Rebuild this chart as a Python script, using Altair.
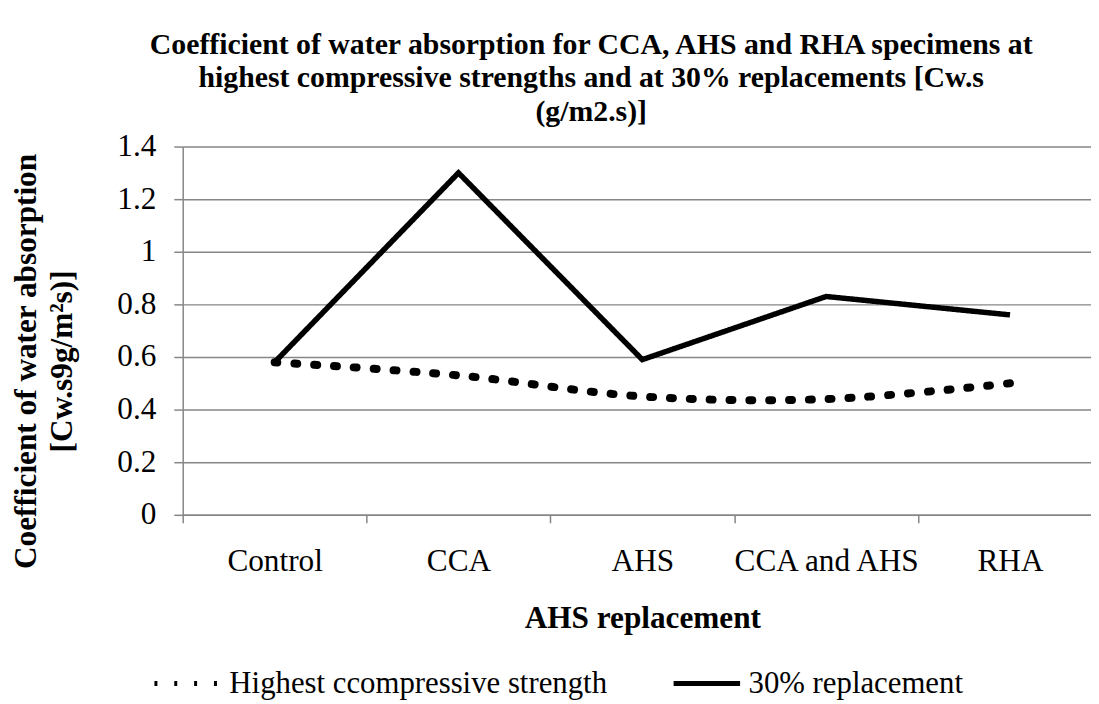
import altair as alt
import pandas as pd

categories = ["Control", "CCA", "AHS", "CCA and AHS", "RHA"]
highest_strength = [0.58, 0.53, 0.45, 0.44, 0.50]
replacement_30 = [0.58, 1.30, 0.59, 0.83, 0.76]
series_names = ["Highest ccompressive strength", "30% replacement"]
y_ticks = [0, 0.2, 0.4, 0.6, 0.8, 1.0, 1.2, 1.4]

rows = []
for c, v in zip(categories, highest_strength):
    rows.append({"cat": c, "value": v, "series": series_names[0]})
for c, v in zip(categories, replacement_30):
    rows.append({"cat": c, "value": v, "series": series_names[1]})
df = pd.DataFrame(rows)

SERIF = "Liberation Serif"
GRID = "#868686"

x_enc = alt.X(
    "cat:N",
    sort=categories,
    bandPosition=0.5,
    scale=alt.Scale(type="band", paddingInner=0, paddingOuter=0, range=[0, 926]),
    axis=alt.Axis(
        title="AHS replacement",
        tickBand="extent",
        labelAngle=0,
        labelBaseline="alphabetic",
        labelPadding=48,
        labelLimit=0,
        tickSize=8,
        grid=False,
        titleBaseline="alphabetic",
        titleY=114,
        titleX=463,
    ),
)
y_enc = alt.Y(
    "value:Q",
    scale=alt.Scale(domain=[0, 1.4], nice=False),
    axis=alt.Axis(
        title=["Coefficient of water absorption", "[Cw.s9g/m\u00b2s)]"],
        values=y_ticks,
        format=".1~f",
        tickSize=9,
        labelPadding=18,
        titleAngle=-90,
        titleBaseline="top",
        titleAlign="center",
        titleX=-173,
        titleY=216,
        titleLineHeight=36,
    ),
)
dash_enc = alt.StrokeDash(
    "series:N",
    scale=alt.Scale(domain=series_names, range=[[3, 17], [1, 0]]),
    legend=alt.Legend(
        title=None,
        orient="none",
        direction="horizontal",
        legendX=-31,
        legendY=505,
        symbolType="stroke",
        symbolSize=4489,
        symbolStrokeColor="black",
        symbolStrokeWidth=5,
        labelOffset=6,
        columnPadding=56,
    ),
)

base = alt.Chart(df)
dotted = base.transform_filter(alt.datum.series == series_names[0]).mark_line(
    color="black", interpolate="catmull-rom", strokeCap="round", strokeWidth=8
).encode(x=x_enc, y=y_enc, strokeDash=dash_enc)
solid = base.transform_filter(alt.datum.series == series_names[1]).mark_line(
    color="black", interpolate="linear", strokeWidth=5.5
).encode(x=x_enc, y=y_enc, strokeDash=dash_enc)

chart = (
    alt.layer(dotted, solid)
    .properties(
        width=915,
        height=371,
        autosize=alt.AutoSizeParams(type="none"),
        padding={"left": 176, "top": 137, "right": 0, "bottom": 188},
        title=alt.TitleParams(
            text=[
                "Coefficient of water absorption for CCA, AHS and RHA specimens at",
                "highest compressive strengths and at 30% replacements [Cw.s",
                "(g/m2.s)]",
            ],
            font=SERIF,
            fontSize=30,
            fontWeight="bold",
            color="black",
            anchor="middle",
            frame="group",
            lineHeight=33.5,
            dx=-46,
        ),
    )
    .configure_view(stroke=None)
    .configure_axis(
        labelFont=SERIF,
        labelFontSize=31.5,
        labelColor="black",
        titleFont=SERIF,
        titleFontSize=31.5,
        titleFontWeight="bold",
        titleColor="black",
        domainColor=GRID,
        domainWidth=1.5,
        tickColor=GRID,
        tickWidth=1.5,
        gridColor=GRID,
        gridWidth=1.5,
        gridOpacity=1,
    )
    .configure_legend(
        labelFont=SERIF,
        labelFontSize=31,
        labelColor="black",
        labelLimit=0,
    )
)

chart.save("out.html", embed_options={"renderer": "svg", "actions": False})
